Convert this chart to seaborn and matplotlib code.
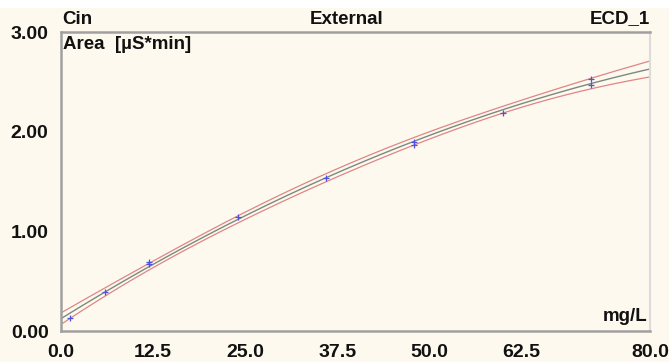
import numpy as np
import pandas as pd
import matplotlib
matplotlib.use("Agg")
import matplotlib.pyplot as plt
import seaborn as sns
from matplotlib.patches import Rectangle

# data
conc = [1.2, 6.0, 12.0, 12.0, 24.0, 36.0, 48.0, 48.0, 60.0, 72.0, 72.0]
area = [0.13, 0.39, 0.67, 0.69, 1.14, 1.54, 1.87, 1.90, 2.19, 2.47, 2.53]
x_ticks = [0.0, 12.5, 25.0, 37.5, 50.0, 62.5, 75.0, 80.0]
x_labels = ["0.0", "12.5", "25.0", "37.5", "50.0", "62.5", "", "80.0"]
y_ticks = [0.0, 1.0, 2.0, 3.0]
y_labels = ["0.00", "1.00", "2.00", "3.00"]

sns.set_style("white")
plt.rcParams['font.family'] = ['Liberation Sans', 'DejaVu Sans']
bg = "#FDF9EE"

x = np.array(conc)
y = np.array(area)
coef, cov = np.polyfit(x, y, 2, cov=True)
xs = np.linspace(0, 80, 200)
X = np.vstack([xs**2, xs, np.ones_like(xs)]).T
yfit = X @ coef
se = np.sqrt(np.einsum('ij,jk,ik->i', X, cov, X))
tval = 2.3
df = pd.DataFrame({"x": xs, "fit": yfit, "lo": yfit - tval * se, "hi": yfit + tval * se})
pts = pd.DataFrame({"x": conc, "y": area})

fig = plt.figure(figsize=(6.69, 3.62), dpi=100, facecolor=bg)
fig.add_artist(Rectangle((0, 1 - 8 / 362), 1, 8 / 362, transform=fig.transFigure,
                         facecolor="white", edgecolor="none", zorder=0))
ax = fig.add_axes([0.0912, 0.0856, 0.8804, 0.826])
ax.set_facecolor(bg)

sns.lineplot(data=df, x="x", y="hi", ax=ax, color="#E08585", lw=0.9)
sns.lineplot(data=df, x="x", y="lo", ax=ax, color="#E08585", lw=0.9)
sns.lineplot(data=df, x="x", y="fit", ax=ax, color="#7A8A80", lw=1.0)
sns.scatterplot(data=pts, x="x", y="y", ax=ax, marker="+", color="#5050E0",
                s=16, linewidth=0.9, zorder=6)

ax.set_xlim(0, 80)
ax.set_ylim(0, 3)
ax.set_xticks(x_ticks)
ax.set_xticklabels(x_labels)
ax.set_yticks(y_ticks)
ax.set_yticklabels(y_labels)
ax.set_xticks(np.arange(0, 80.01, 2.5), minor=True)
ax.set_yticks(np.arange(0, 3.01, 0.25), minor=True)
ax.tick_params(axis='both', which='major', length=8.5, width=1, color="#9A9A9A",
               labelsize=14, pad=0.5, labelcolor="#111111")
ax.tick_params(axis='both', which='minor', length=3.5, width=0.8, color="#9A9A9A")
ax.xaxis.get_major_ticks()[-1].tick1line.set_markersize(2)
for lab in ax.get_xticklabels() + ax.get_yticklabels():
    lab.set_fontweight('bold')
ax.set_xlabel("")
ax.set_ylabel("")
for s in ['left', 'bottom', 'top']:
    ax.spines[s].set_color("#A0A0A0")
    ax.spines[s].set_linewidth(1.8)
ax.spines['right'].set_color("#DCDCDC")
ax.spines['right'].set_linewidth(1.5)

kw = dict(fontsize=13.5, fontweight='bold', color="#111111")
ax.text(0.002, 1.015, "Cin", transform=ax.transAxes, ha='left', va='bottom', **kw)
ax.text(0.485, 1.015, "External", transform=ax.transAxes, ha='center', va='bottom', **kw)
ax.text(1.0, 1.015, "ECD_1", transform=ax.transAxes, ha='right', va='bottom', **kw)
ax.text(0.004, 0.985, "Area  [µS*min]", transform=ax.transAxes, ha='left', va='top', **kw)
ax.text(0.995, 0.02, "mg/L", transform=ax.transAxes, ha='right', va='bottom', **kw)

fig.savefig("out.png", dpi=100, facecolor=bg)
